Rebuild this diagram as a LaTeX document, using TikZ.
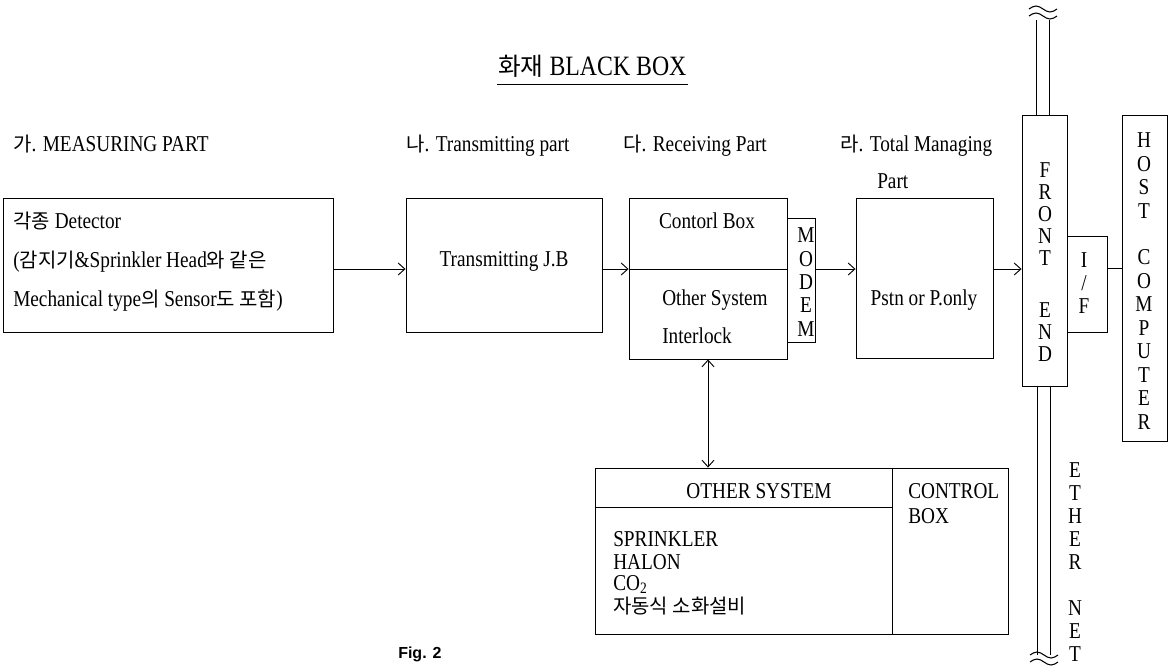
\documentclass[tikz,border=0pt]{standalone}
\usepackage{fontspec}
\setmainfont{Liberation Serif}[FakeStretch=0.85]
\newfontfamily\kr{Noto Sans CJK KR}[Scale=0.88]
\newfontfamily\figfont{Liberation Sans}
\usetikzlibrary{arrows.meta,fit}
\newcommand\labsize{\fontsize{17pt}{20pt}\selectfont}
\begin{document}
\begin{tikzpicture}[x=0.75pt,y=-0.75pt,
  ln/.style={line width=0.7pt},
  box/.style={draw, line width=0.7pt, inner sep=0pt},
  arr/.style={line width=0.7pt, -{Straight Barb[length=5pt,width=9pt]}},
  darr/.style={line width=0.7pt, {Straight Barb[length=5pt,width=9pt]}-{Straight Barb[length=5pt,width=9pt]}},
  lbl/.style={anchor=base west, inner sep=0pt, font=\labsize},
  ctxt/.style={anchor=base, inner sep=0pt, font=\labsize},
  vtxt/.style={align=center, inner sep=0pt, font=\labsize}
]
\useasboundingbox (0,0) rectangle (1169,665);

% title
\node[anchor=base west, inner sep=0pt, font=\fontsize{21pt}{24pt}\selectfont] (title) at (498,75) {{\kr 화재} BLACK BOX};
\coordinate (ulL) at (497,84);
\coordinate (ulR) at (688,84);
\draw[ln] (ulL) -- (ulR);

% section labels
\node[lbl] (la) at (13,151) {{\kr 가}. MEASURING PART};
\node[lbl] (lb) at (406,151) {{\kr 나}. Transmitting part};
\node[lbl] (lc) at (623,151) {{\kr 다}. Receiving Part};
\node[lbl] (ld) at (840,151) {{\kr 라}. Total Managing};
\node[lbl] (ld2) at (877,188) {Part};

% boxes
\node[box, fit={(3,198) (333,332)}] (det) {};
\node[box, fit={(406,198) (602,332)}] (tj) {};
\node[box, fit={(629,198) (787,359)}] (ctl) {};
\node[box, fit={(787,218) (815,342)}] (modem) {};
\node[box, fit={(856,198) (993,358)}] (pstn) {};
\node[box, fit={(1022,115) (1067,386)}] (fe) {};
\node[box, fit={(1067,236) (1107,332)}] (if) {};
\node[box, fit={(1122,115) (1167,441)}] (host) {};
\node[box, fit={(595,468) (1008,634)}] (oth) {};

\coordinate (yarr) at (0,269);
\coordinate (yif) at (0,268);
\coordinate (xarr) at (708,0);
\coordinate (xdiv) at (892,0);
\coordinate (ydiv) at (0,507);

% internal dividers
\draw[ln] (ctl.west |- yarr) -- (ctl.east |- yarr);
\draw[ln] (oth.north -| xdiv) -- (oth.south -| xdiv);
\draw[ln] (oth.west |- ydiv) -- (xdiv |- ydiv);

% connectors
\draw[arr] (det.east |- yarr) -- (tj.west |- yarr);
\draw[arr] (tj.east |- yarr) -- (ctl.west |- yarr);
\draw[arr] (modem.east |- yarr) -- (pstn.west |- yarr);
\draw[arr] (pstn.east |- yarr) -- (fe.west |- yarr);
\draw[ln] (if.east |- yif) -- (host.west |- yif);
\draw[darr] (ctl.south -| xarr) -- (oth.north -| xarr);

% network double lines
\coordinate (t1) at (1036,20);
\coordinate (t2) at (1049,20);
\coordinate (b1) at (1037,655);
\coordinate (b2) at (1050,655);
\draw[ln] (t1) -- (t1 |- fe.north);
\draw[ln] (t2) -- (t2 |- fe.north);
\draw[ln] (b1 |- fe.south) -- (b1);
\draw[ln] (b2 |- fe.south) -- (b2);
% break marks
\foreach \cx/\cy in {1043/9, 1043/16, 1044/655, 1044/662}{
  \draw[line width=0.8pt] (\cx-14,\cy) sin (\cx-7,\cy-3) cos (\cx,\cy) sin (\cx+7,\cy+3) cos (\cx+14,\cy);
}

% box texts
\node[lbl] (d1) at (13,228) {{\kr 각종} Detector};
\node[lbl] (d2) at (13,267) {({\kr 감지기}\&Sprinkler Head{\kr 와 같은}};
\node[lbl] (d3) at (13,306) {Mechanical type{\kr 의} Sensor{\kr 도 포함})};
\node[ctxt] (tjt) at (504,266) {Transmitting J.B};
\node[ctxt] (ctt) at (707,228) {Contorl Box};
\node[lbl] (os1) at (662,305) {Other System};
\node[lbl] (os2) at (662,343) {Interlock};
\node[ctxt] (pst) at (924,305) {Pstn or P.only};
\node[vtxt] (mt) at (806,282) {M\\[-2.5pt]O\\[-2.5pt]D\\[-2.5pt]E\\[-2.5pt]M};
\node[vtxt] (fet) at (1045,262) {F\\[-3.5pt]R\\[-3.5pt]O\\[-3.5pt]N\\[-3.5pt]T\\[19pt]E\\[-3.5pt]N\\[-3.5pt]D};
\node[vtxt] (ift) at (1084,283) {I\\[-3pt]/\\[-3pt]F};
\node[vtxt] (hst) at (1144,281) {H\\[-2.4pt]O\\[-2.4pt]S\\[-2.4pt]T\\[15.2pt]C\\[-2.4pt]O\\[-2.4pt]M\\[-2.4pt]P\\[-2.4pt]U\\[-2.4pt]T\\[-2.4pt]E\\[-2.4pt]R};
\node[vtxt] (eth) at (1075,562) {E\\[-2.8pt]T\\[-2.8pt]H\\[-2.8pt]E\\[-2.8pt]R\\[14.5pt]N\\[-2.8pt]E\\[-2.8pt]T};

\node[ctxt] (ost) at (759,498) {OTHER SYSTEM};
\node[lbl] (cb1) at (908,498) {CONTROL};
\node[lbl] (cb2) at (908,523) {BOX};
\node[lbl] (s1) at (613,546) {SPRINKLER};
\node[lbl] (s2) at (613,569) {HALON};
\node[lbl] (s3) at (613,590) {CO\textsubscript{2}};
\node[lbl] (s4) at (613,613) {{\kr 자동식 소화설비}};

\node[anchor=base west, inner sep=0pt, font=\figfont\bfseries\fontsize{12pt}{14pt}\selectfont] (fig) at (398,658) {Fig. 2};
\end{tikzpicture}
\end{document}
